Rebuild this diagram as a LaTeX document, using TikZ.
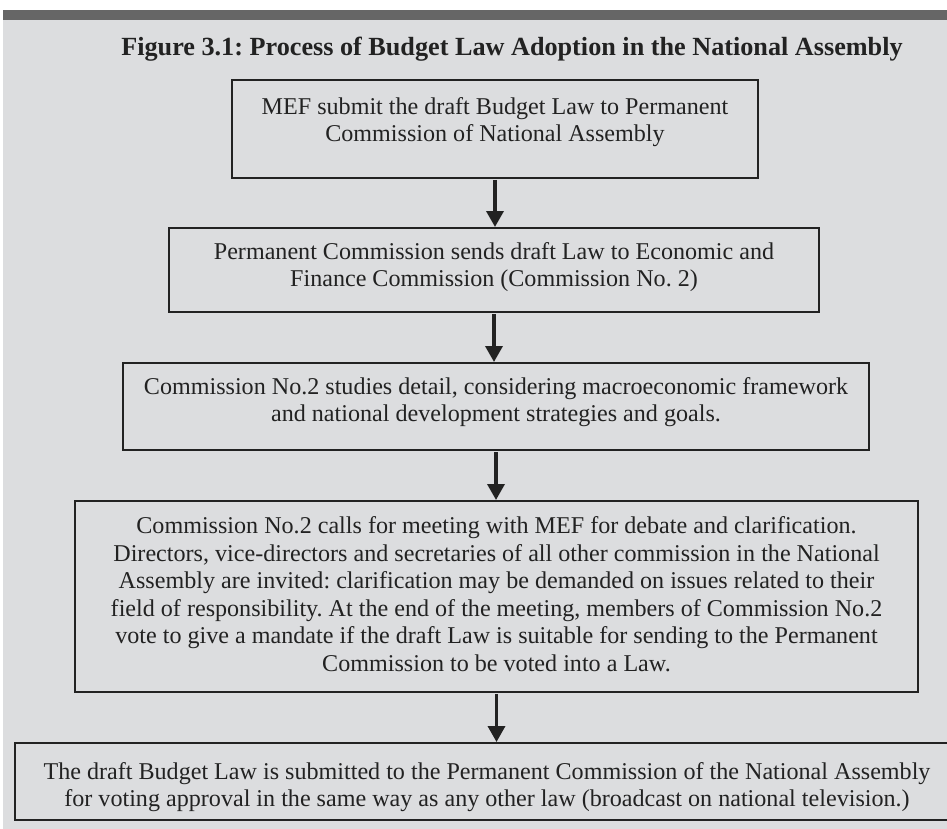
\documentclass[tikz,border=0pt]{standalone}
\usepackage{fontspec}
\setmainfont{Liberation Serif}
\usetikzlibrary{arrows.meta}
\definecolor{bggray}{HTML}{DCDDDF}
\definecolor{bargray}{HTML}{666666}
\definecolor{ink}{HTML}{222222}
\tikzset{
  boxshape/.style={draw=ink, line width=2pt, rectangle, inner sep=0pt},
  txt/.style={align=center, inner sep=0pt, text=ink, font=\fontsize{24.1}{27.5}\selectfont},
  flow/.style={draw=ink, line width=3.5pt, -{Triangle[width=17pt,length=16pt]}, shorten <=1pt}
}
\begin{document}
\frenchspacing
\begin{tikzpicture}[x=1pt,y=-1pt]
\clip (0,0) rectangle (947,829);
\fill[white] (0,0) rectangle (947,829);
\fill[bggray] (3,20) rectangle (947,829);
\fill[bargray] (3,10) rectangle (947,20);
\node[font=\fontsize{26.2}{30}\selectfont\bfseries, text=ink, inner sep=0pt] (title) at (512,49)
  {Figure 3.1: Process of Budget Law Adoption in the National Assembly};
% boxes
\node[boxshape, minimum width=526pt, minimum height=98pt] (b1) at (495,129) {};
\node[txt] (t1) at (495,122) {MEF submit the draft Budget Law to Permanent\\Commission of National Assembly};
\node[boxshape, minimum width=650pt, minimum height=84pt] (b2) at (494,270) {};
\node[txt] (t2) at (494,267) {Permanent Commission sends draft Law to Economic and\\Finance Commission (Commission No. 2)};
\node[boxshape, minimum width=746pt, minimum height=87pt] (b3) at (496,406.5) {};
\node[txt] (t3) at (496,402) {Commission No.2 studies detail, considering macroeconomic framework\\and national development strategies and goals.};
\node[boxshape, minimum width=843pt, minimum height=191pt] (b4) at (496.5,596.5) {};
\node[txt] (t4) at (496.5,594) {Commission No.2 calls for meeting with MEF for debate and clarification.\\Directors, vice-directors and secretaries of all other commission in the National\\Assembly are invited: clarification may be demanded on issues related to their\\field of responsibility. At the end of the meeting, members of Commission No.2\\vote to give a mandate if the draft Law is suitable for sending to the Permanent\\Commission to be voted into a Law.};
\node[boxshape, minimum width=944pt, minimum height=77pt] (b5) at (487,781.5) {};
\node[txt] (t5) at (487,787) {The draft Budget Law is submitted to the Permanent Commission of the National Assembly\\for voting approval in the same way as any other law (broadcast on national television.)};
% arrows
\draw[flow] (b1.south) -- (b1.south |- b2.north);
\draw[flow] (b2.south) -- (b2.south |- b3.north);
\draw[flow] (b3.south) -- (b3.south |- b4.north);
\draw[flow] (b4.south) -- (b4.south |- b5.north);
\end{tikzpicture}
\end{document}
